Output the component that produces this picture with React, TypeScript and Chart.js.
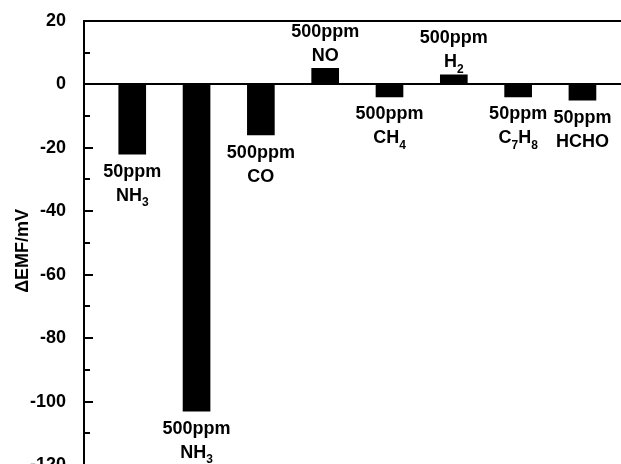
import React, { useEffect, useRef } from "react";
import { Chart, registerables } from "chart.js";

Chart.register(...registerables);

// ---- data ----
const positions = [1, 2, 3, 4, 5, 6, 7, 8];
const values = [-22, -103, -16, 5, -4, 3, -4, -5];
const concLabels = ["50ppm", "500ppm", "500ppm", "500ppm", "500ppm", "500ppm", "50ppm", "50ppm"];
const gasLabels = ["NH3", "NH3", "CO", "NO", "CH4", "H2", "C7H8", "HCHO"];
const yMajorTicks = [-120, -100, -80, -60, -40, -20, 0, 20];
const yMinorTicks = [-110, -90, -70, -50, -30, -10, 10];
const yTitle = "ΔEMF/mV";

const FONT = '"Liberation Sans", Arial, sans-serif';
const MAIN_FONT = `bold 18px ${FONT}`;
const SUB_FONT = `bold 12px ${FONT}`;

function drawFormula(ctx: CanvasRenderingContext2D, text: string, cx: number, cy: number) {
  const segs: { t: string; sub: boolean }[] = [];
  for (const ch of text) {
    const sub = /[0-9]/.test(ch);
    const last = segs[segs.length - 1];
    if (last && last.sub === sub) last.t += ch;
    else segs.push({ t: ch, sub });
  }
  let total = 0;
  const widths = segs.map((s) => {
    ctx.font = s.sub ? SUB_FONT : MAIN_FONT;
    const w = ctx.measureText(s.t).width;
    total += w;
    return w;
  });
  let x = cx - total / 2;
  const base = cy + 6.5;
  ctx.textAlign = "left";
  ctx.textBaseline = "alphabetic";
  segs.forEach((s, i) => {
    ctx.font = s.sub ? SUB_FONT : MAIN_FONT;
    ctx.fillText(s.t, x, s.sub ? base + 5.5 : base);
    x += widths[i];
  });
}

const decorPlugin = {
  id: "decor",
  afterDatasetsDraw(chart: any) {
    const { ctx, chartArea, scales } = chart;
    const y = scales.y;
    ctx.save();
    ctx.strokeStyle = "#000";
    ctx.fillStyle = "#000";
    ctx.lineWidth = 2;
    const hline = (py: number) => {
      ctx.beginPath();
      ctx.moveTo(chartArea.left, py);
      ctx.lineTo(chartArea.right + 10, py);
      ctx.stroke();
    };
    hline(Math.round(y.getPixelForValue(20)));
    hline(Math.round(y.getPixelForValue(0)));
    // inward ticks
    const left = chartArea.left;
    yMajorTicks.forEach((v) => {
      const py = Math.round(y.getPixelForValue(v));
      ctx.beginPath();
      ctx.moveTo(left, py);
      ctx.lineTo(left + 9, py);
      ctx.stroke();
    });
    yMinorTicks.forEach((v) => {
      const py = Math.round(y.getPixelForValue(v));
      ctx.beginPath();
      ctx.moveTo(left, py);
      ctx.lineTo(left + 6, py);
      ctx.stroke();
    });
    // bar labels
    const meta = chart.getDatasetMeta(0);
    meta.data.forEach((bar: any, i: number) => {
      const cx = bar.x;
      let y1: number, y2: number;
      if (values[i] < 0) {
        y1 = bar.y + 16;
        y2 = bar.y + 40;
      } else {
        y1 = bar.y - 38;
        y2 = bar.y - 14;
      }
      ctx.font = MAIN_FONT;
      ctx.textAlign = "center";
      ctx.textBaseline = "alphabetic";
      ctx.fillText(concLabels[i], cx, y1 + 6.5);
      drawFormula(ctx, gasLabels[i], cx, y2);
    });
    // y title
    const midY = (y.getPixelForValue(20) + y.getPixelForValue(-120)) / 2 + 8;
    ctx.translate(23, midY);
    ctx.rotate(-Math.PI / 2);
    ctx.font = MAIN_FONT;
    ctx.textAlign = "center";
    ctx.textBaseline = "middle";
    ctx.fillText(yTitle, 0, 0);
    ctx.restore();
  },
};

export default function App() {
  const ref = useRef<HTMLCanvasElement | null>(null);
  useEffect(() => {
    if (!ref.current) return;
    const chart = new Chart(ref.current, {
      type: "bar",
      data: {
        datasets: [
          {
            data: positions.map((p, i) => ({ x: p, y: values[i] })),
            backgroundColor: "#000",
            borderWidth: 0,
            barThickness: 27,
          },
        ],
      },
      options: {
        responsive: false,
        animation: false,
        devicePixelRatio: 1,
        layout: { padding: { left: 0, top: 20, right: 5, bottom: 55 } },
        plugins: { legend: { display: false }, tooltip: { enabled: false } },
        scales: {
          x: { type: "linear", display: false, offset: false, min: 0.25, max: 9.75 },
          y: {
            position: "left",
            min: -120,
            max: 20,
            afterFit: (s: any) => {
              s.width = 84;
            },
            grid: { display: false },
            border: { display: true, color: "#000", width: 2 },
            ticks: {
              stepSize: 20,
              color: "#000",
              padding: 10,
              font: { family: FONT, size: 18, weight: "bold" },
            },
          },
        },
      },
      plugins: [decorPlugin],
    });
    return () => chart.destroy();
  }, []);
  return (
    <div
      style={{
        position: "fixed",
        left: 0,
        top: 0,
        width: 621,
        height: 464,
        overflow: "hidden",
        background: "#fff",
      }}
    >
      <canvas ref={ref} width={700} height={520} style={{ display: "block", width: 700, height: 520 }} />
    </div>
  );
}
